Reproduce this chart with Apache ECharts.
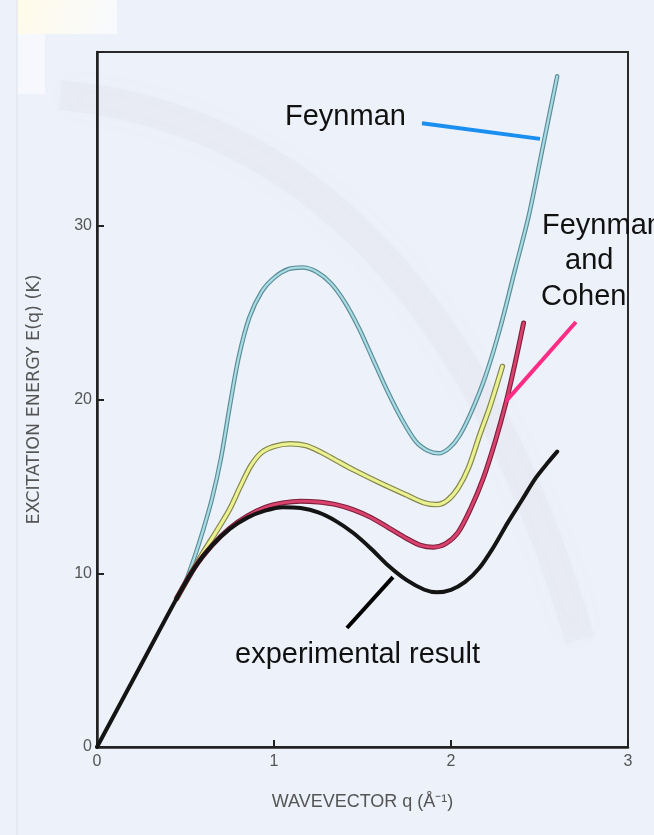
<!DOCTYPE html>
<html><head><meta charset="utf-8">
<script src="https://cdn.jsdelivr.net/npm/echarts@6/dist/echarts.min.js"></script>
<style>html,body{margin:0;padding:0;background:#edf1f9}#c{width:654px;height:835px}</style>
</head><body><div id="c"></div>
<script>
// ---- data (q in 1/Å, E in K) ----
const xRange = [0, 3];
const yRange = [0, 40];
const experimental = [[0,0],[0.25,4.75],[0.45,8.55],[0.55,10.3],[0.65,11.6],[0.75,12.55],[0.85,13.2],[0.95,13.6],[1.05,13.8],[1.15,13.75],[1.25,13.5],[1.35,13.0],[1.45,12.3],[1.55,11.4],[1.65,10.4],[1.75,9.6],[1.85,9.05],[1.92,8.9],[2.0,9.05],[2.08,9.5],[2.16,10.3],[2.24,11.5],[2.32,12.9],[2.4,14.2],[2.48,15.5],[2.55,16.4],[2.6,17.0]];
const feynmanCohen = [[0.45,8.55],[0.55,10.3],[0.65,11.6],[0.75,12.6],[0.85,13.3],[0.95,13.8],[1.05,14.05],[1.15,14.15],[1.25,14.1],[1.35,13.95],[1.45,13.65],[1.55,13.2],[1.65,12.6],[1.75,12.0],[1.83,11.6],[1.9,11.5],[1.97,11.7],[2.04,12.35],[2.11,13.7],[2.18,15.4],[2.25,17.6],[2.31,19.8],[2.36,22.0],[2.41,24.4]];
const intermediate = [[0.45,8.55],[0.52,9.8],[0.6,11.2],[0.68,12.5],[0.75,13.7],[0.81,15.0],[0.87,16.2],[0.93,16.95],[1.0,17.3],[1.09,17.45],[1.18,17.35],[1.26,17.0],[1.35,16.5],[1.45,15.95],[1.6,15.2],[1.75,14.5],[1.85,14.05],[1.92,13.95],[1.98,14.2],[2.04,14.9],[2.1,16.1],[2.16,17.9],[2.22,19.6],[2.29,21.9]];
const feynman = [[0.45,8.55],[0.5,9.5],[0.55,10.9],[0.6,12.5],[0.65,14.3],[0.7,16.6],[0.75,19.6],[0.8,22.4],[0.86,24.7],[0.93,26.2],[1.0,27.0],[1.08,27.5],[1.16,27.6],[1.24,27.35],[1.32,26.7],[1.4,25.6],[1.48,24.1],[1.56,22.3],[1.64,20.5],[1.72,18.9],[1.8,17.6],[1.87,17.05],[1.93,16.9],[1.99,17.2],[2.05,17.95],[2.12,19.4],[2.2,21.5],[2.28,24.2],[2.36,27.4],[2.44,30.6],[2.52,34.6],[2.6,38.6]];
// annotation pointer lines (data coords)
const feynmanPointer = [[1.836,35.9],[2.503,35.0]];
const cohenPointer = [[2.706,24.46],[2.311,19.91]];
const expPointer = [[1.412,6.85],[1.672,9.78]];
const labels = {feynman:'Feynman', fc:['Feynman','and','Cohen'], exp:'experimental result'};
const xTitle = 'WAVEVECTOR q (Å\u207B\u00B9)';
const yTitle = 'EXCITATION ENERGY E(q) (K)';

function curve(data, color, width, z){
  return {type:'line', data:data, smooth:0.3, symbol:'none', z:z,
    lineStyle:{color:color, width:width, cap:'round', join:'round'}, silent:true};
}
function pointer(data, color){
  return {type:'line', data:data, symbol:'none', z:20, lineStyle:{color:color, width:4, cap:'butt'}, silent:true};
}

const chart = echarts.init(document.getElementById('c'), null, {renderer:'canvas'});
const axisText = {color:'#555', fontSize:16, fontFamily:'Liberation Sans, Arial, sans-serif'};
const annFont = '29px Liberation Sans, Arial, sans-serif';
chart.setOption({
  backgroundColor:'#edf1f9',
  animation:false,
  grid:{left:97, top:52, right:26, bottom:88, show:true, borderColor:'#2a2a2a', borderWidth:2, backgroundColor:'transparent'},
  xAxis:{type:'value', min:xRange[0], max:xRange[1], interval:1,
    name:xTitle, nameLocation:'middle', nameGap:46,
    nameTextStyle:{color:'#555', fontSize:18, fontFamily:'Liberation Sans, Arial, sans-serif'},
    axisLine:{lineStyle:{color:'#222', width:2.5}},
    axisTick:{inside:true, length:7, lineStyle:{color:'#222', width:2}},
    axisLabel:Object.assign({margin:7}, axisText),
    splitLine:{show:false}},
  yAxis:{type:'value', min:yRange[0], max:yRange[1], interval:10,
    name:yTitle, nameLocation:'middle', nameGap:54,
    nameTextStyle:{color:'#555', fontSize:17.5, fontFamily:'DejaVu Sans, sans-serif'},
    axisLine:{show:true, lineStyle:{color:'#222', width:2.5}},
    axisTick:{show:true, inside:true, length:7, lineStyle:{color:'#222', width:2}},
    axisLabel:Object.assign({margin:5, formatter:v=> v===40?'':String(v)}, axisText),
    splitLine:{show:false}},
  graphic:[
    {type:'rect', z:-10, silent:true, shape:{x:17,y:0,width:100,height:34},
      style:{fill:{type:'linear',x:0,y:0,x2:1,y2:1,colorStops:[{offset:0,color:'#fffbe8'},{offset:1,color:'#f7f9fe'}]}}},
    {type:'rect', z:-10, silent:true, shape:{x:17,y:34,width:28,height:60}, style:{fill:'#f6f8fd'}},
    {type:'line', z:-10, silent:true, shape:{x1:17,y1:0,x2:17,y2:835}, style:{stroke:'#dde2ea', lineWidth:1}},
    {type:'bezierCurve', z:-9, silent:true, shape:{x1:60,y1:95,cpx1:430,cpy1:130,x2:580,y2:640},
      style:{fill:null, stroke:'rgba(150,155,170,0.05)', lineWidth:30, shadowBlur:30, shadowColor:'rgba(150,155,170,0.35)'}},
    {type:'text', z:30, left:285, top:102, style:{text:labels.feynman, font:annFont, fill:'#111'}},
    {type:'text', z:30, left:542, top:211, style:{text:labels.fc[0], font:annFont, fill:'#111'}},
    {type:'text', z:30, left:565, top:246, style:{text:labels.fc[1], font:annFont, fill:'#111'}},
    {type:'text', z:30, left:541, top:282, style:{text:labels.fc[2], font:annFont, fill:'#111'}},
    {type:'text', z:30, left:235, top:640, style:{text:labels.exp, font:annFont, fill:'#111'}}
  ],
  series:[
    curve(feynman,'#5a8c96',4.5,2), curve(feynman,'#a9dbe4',2.2,3),
    curve(intermediate,'#84844a',5.5,4), curve(intermediate,'#e9f190',3.2,5),
    curve(feynmanCohen,'#7d1e3c',5,6), curve(feynmanCohen,'#d8426c',2.8,7),
    curve(experimental,'#141414',4,8),
    pointer(feynmanPointer,'#1a8ff0'),
    pointer(cohenPointer,'#ff2c86'),
    pointer(expPointer,'#000')
  ]
});
</script></body></html>
